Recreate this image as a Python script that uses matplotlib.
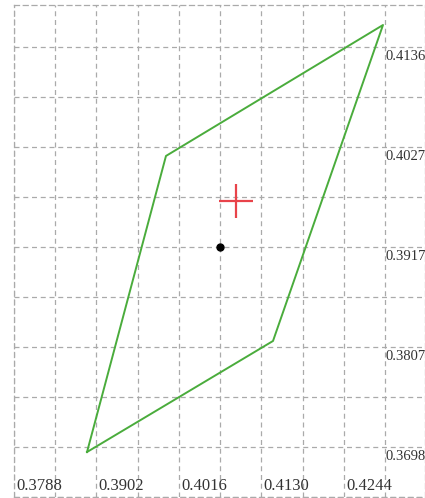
import matplotlib
matplotlib.use("Agg")
import matplotlib.pyplot as plt
import numpy as np

# polygon vertices (closed)
poly_x = [0.38889, 0.39980, 0.42979, 0.41459, 0.38889]
poly_y = [0.36925, 0.40167, 0.41601, 0.38141, 0.36925]

# red cross and black dot
cross_x, cross_y = 0.40948, 0.39674
dot_x, dot_y = 0.40727, 0.3917

xticks = [0.3788, 0.3902, 0.4016, 0.4130, 0.4244]
xlabels = ["0.3788", "0.3902", "0.4016", "0.4130", "0.4244"]
yticks = [0.3698, 0.38075, 0.3917, 0.40265, 0.4136]
ylabels = ["0.3698", "0.3807", "0.3917", "0.4027", "0.4136"]

plt.rcParams['font.family'] = ['Liberation Serif', 'DejaVu Serif']

fig = plt.figure(figsize=(4.25, 4.98), dpi=100)
ax = fig.add_axes([14 / 425, 1 / 498, 411 / 425, 492 / 498])

dx = (xticks[1] - xticks[0]) / 2
dy = (yticks[1] - yticks[0]) / 2
ax.set_xlim(xticks[0], xticks[0] + 0.056793)
ax.set_ylim(yticks[0] - dy, 0.41820)

ax.set_xticks(xticks)
ax.set_xticks(np.array(xticks) + dx, minor=True)
ax.set_yticks(yticks)
ax.set_yticks(np.array(yticks) - dy, minor=True)
ax.tick_params(which='both', length=0, labelbottom=False, labelleft=False)
ax.grid(True, which='both', color='#aaaaaa', linestyle=(0, (4, 3)), linewidth=0.9)
for s in ax.spines.values():
    s.set_color('#aaaaaa')
    s.set_linestyle((0, (4, 3)))
    s.set_linewidth(0.9)

ax.plot(poly_x, poly_y, color='#4aac3c', linewidth=1.4)
ax.plot(cross_x, cross_y, marker='+', color='#e8434a', markersize=24, mew=1.6)
ax.plot(dot_x, dot_y, marker='o', color='black', markersize=5)

for x, lab in zip(xticks, xlabels):
    ax.annotate(lab, xy=(x, 0), xycoords=('data', 'axes fraction'),
                xytext=(1.5, 5), textcoords='offset points',
                ha='left', va='baseline', fontsize=12, color='#333333')

for y, lab in zip(yticks, ylabels):
    ax.annotate(lab, xy=(xticks[-1] + dx, y), xycoords='data',
                xytext=(0.5, -2.5), textcoords='offset points',
                ha='left', va='top', fontsize=10.5, color='#333333',
                annotation_clip=False)

fig.savefig("out.png", dpi=100)
